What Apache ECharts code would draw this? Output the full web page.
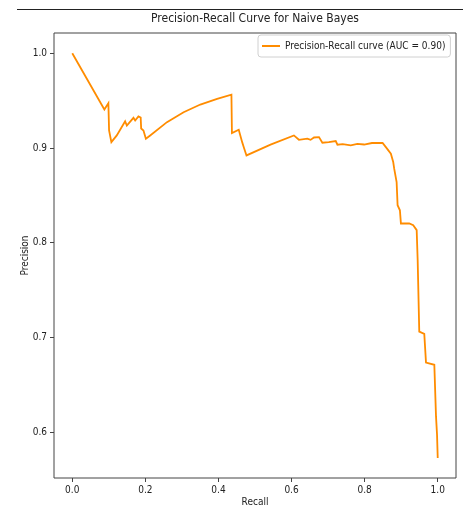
<!DOCTYPE html>
<html>
<head>
<meta charset="utf-8">
<script src="https://cdn.jsdelivr.net/npm/echarts@6/dist/echarts.min.js"></script>
<style>html,body{margin:0;padding:0;background:#fff;}#c{width:468px;height:506px;}</style>
</head>
<body>
<div id="c"></div>
<script>
const recall = [0.000,0.0878,0.0988,0.1007,0.1070,0.1218,0.1446,0.1493,0.1674,0.1721,0.1811,0.1872,0.1885,0.1948,0.2014,0.2132,0.2591,0.3046,0.3504,0.3963,0.4355,0.4369,0.4555,0.4602,0.4649,0.4693,0.4767,0.5425,0.6065,0.6110,0.6202,0.6432,0.6520,0.6614,0.6751,0.6844,0.7020,0.7209,0.7256,0.7400,0.7621,0.7800,0.7986,0.8200,0.8491,0.8581,0.8718,0.8782,0.8809,0.8875,0.8902,0.8965,0.8993,0.9221,0.9330,0.9424,0.9451,0.9495,0.9632,0.9679,0.9907,0.9953,0.9981,1.000];
const precision = [1.000,0.9405,0.9472,0.9184,0.9061,0.9132,0.9282,0.9237,0.9318,0.9289,0.9332,0.9321,0.9205,0.9184,0.9097,0.9132,0.9272,0.9377,0.9458,0.9518,0.9563,0.9156,0.9192,0.9174,0.9061,0.9008,0.8921,0.9034,0.9132,0.9113,0.9086,0.9097,0.9085,0.9110,0.9114,0.9055,0.9062,0.9072,0.9034,0.9040,0.9026,0.9042,0.9036,0.9052,0.9053,0.9008,0.8939,0.8851,0.8781,0.8640,0.8395,0.8342,0.8202,0.8202,0.8184,0.8132,0.7816,0.7061,0.7037,0.6735,0.6711,0.6166,0.5974,0.5728];
const xTicks = [0.0,0.2,0.4,0.6,0.8,1.0];
const yTicks = [0.6,0.7,0.8,0.9,1.0];
const titleText = 'Precision-Recall Curve for Naive Bayes';
const seriesName = 'Precision-Recall curve (AUC = 0.90)';

const FONT = 'DejaVu Sans Condensed';
const chart = echarts.init(document.getElementById('c'), null, {renderer:'canvas'});
const pts = recall.map((r,i)=>[r, precision[i]]);
chart.setOption({
  animation:false,
  backgroundColor:'#fff',
  title:{text:titleText,left:255,top:13,textAlign:'center',padding:0,
    textStyle:{fontFamily:FONT,fontSize:12,fontWeight:'normal',color:'#222'}},
  legend:{data:[{name:seriesName,icon:'rect'}],left:258,top:35,itemWidth:18,itemHeight:2,itemGap:4,
    padding:[6,5,6,4],borderColor:'#d0d0d0',borderWidth:1,borderRadius:3,backgroundColor:'#fff',
    textStyle:{fontFamily:FONT,fontSize:10,color:'#222',padding:[0,0,0,0]}},
  grid:{left:54,right:12,top:33,bottom:28,show:true,borderColor:'#444',borderWidth:1,containLabel:false,outerBoundsMode:'none'},
  xAxis:{type:'value',min:-0.05,max:1.05,name:'Recall',nameLocation:'middle',nameGap:19,nameMoveOverlap:false,
    nameTextStyle:{fontFamily:FONT,fontSize:10,color:'#222'},
    axisLine:{show:false,onZero:false},splitLine:{show:false},
    axisTick:{show:true,length:4,customValues:xTicks,lineStyle:{color:'#444'}},
    axisLabel:{customValues:xTicks,margin:7,fontFamily:FONT,fontSize:10,color:'#222',formatter:v=>v.toFixed(1)}},
  yAxis:{type:'value',min:0.5516,max:1.0213,name:'Precision',nameLocation:'middle',nameGap:24,nameRotate:90,nameMoveOverlap:false,
    nameTextStyle:{fontFamily:FONT,fontSize:10,color:'#222'},
    axisLine:{show:false,onZero:false},splitLine:{show:false},
    axisTick:{show:true,length:4,customValues:yTicks,lineStyle:{color:'#444'}},
    axisLabel:{customValues:yTicks,margin:7,fontFamily:FONT,fontSize:10,color:'#222',formatter:v=>v.toFixed(1)}},
  series:[{name:seriesName,type:'line',data:pts,showSymbol:false,symbol:'none',smooth:false,
    lineStyle:{color:'#ff8c00',width:1.8,join:'miter'},itemStyle:{color:'#ff8c00'},clip:true}],
  graphic:[{type:'line',shape:{x1:17,y1:9.5,x2:463,y2:9.5},style:{stroke:'#222',lineWidth:1}}]
});
</script>
</body>
</html>
